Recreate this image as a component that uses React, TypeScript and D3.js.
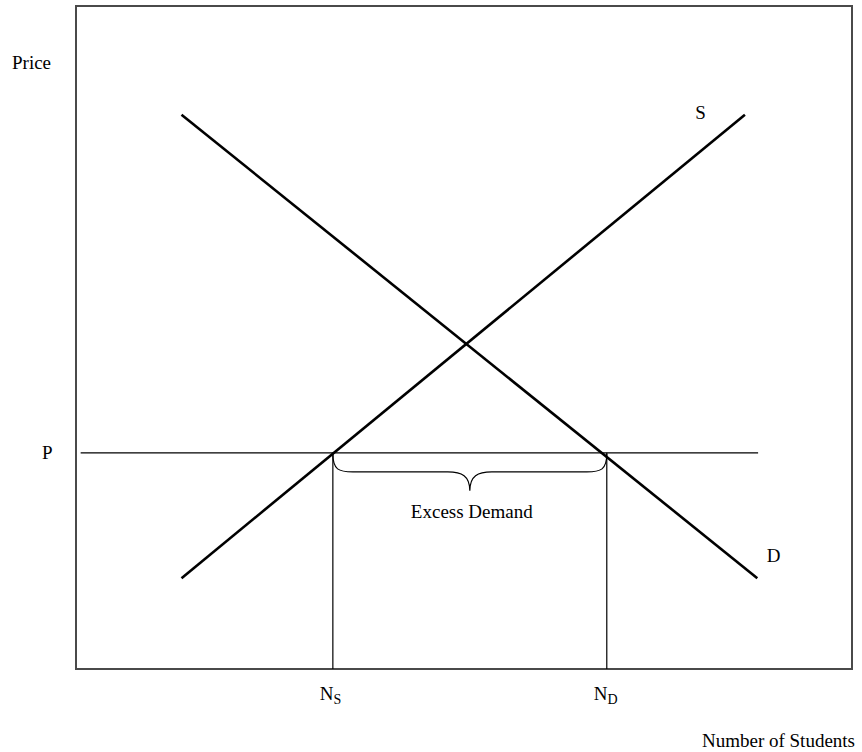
import { useEffect, useRef } from "react";
import * as d3 from "d3";

// quantity / price in chart units (0..10 on both axes)
const supply = [
  { q: 1.36, p: 1.37 },
  { q: 8.62, p: 8.36 },
];
const demand = [
  { q: 1.36, p: 8.36 },
  { q: 8.78, p: 1.37 },
];
const priceLevel = 3.26;
const priceLineRange = [0.06, 8.79];
const quantities = [
  { q: 3.31, sub: "S" },
  { q: 6.84, sub: "D" },
];
const curveLabels = [
  { text: "S", q: 7.98, p: 8.3 },
  { text: "D", q: 8.9, p: 1.62 },
];
const braceLabel = "Excess Demand";
const xLabel = "Number of Students";
const yLabel = "Price";

const W = 862;
const H = 752;
const frame = { left: 76, right: 852, top: 6, bottom: 669 };
const font = "'Liberation Serif', 'Times New Roman', serif";

export default function App() {
  const ref = useRef<SVGSVGElement>(null);

  useEffect(() => {
    document.body.style.margin = "0";
    if (!ref.current) return;
    const svg = d3.select(ref.current);
    svg.selectAll("*").remove();

    const x = d3.scaleLinear().domain([0, 10]).range([frame.left, frame.right]);
    const y = d3.scaleLinear().domain([0, 10]).range([frame.bottom, frame.top]);

    svg
      .append("rect")
      .attr("x", frame.left)
      .attr("y", frame.top)
      .attr("width", frame.right - frame.left)
      .attr("height", frame.bottom - frame.top)
      .attr("fill", "none")
      .attr("stroke", "#4a4a4a")
      .attr("stroke-width", 2);

    const line = d3
      .line<{ q: number; p: number }>()
      .x((d) => x(d.q))
      .y((d) => y(d.p));

    // price line
    svg
      .append("line")
      .attr("x1", x(priceLineRange[0]))
      .attr("x2", x(priceLineRange[1]))
      .attr("y1", y(priceLevel))
      .attr("y2", y(priceLevel))
      .attr("stroke", "#000")
      .attr("stroke-width", 1.2);

    quantities.forEach((t) => {
      svg
        .append("line")
        .attr("x1", x(t.q))
        .attr("x2", x(t.q))
        .attr("y1", y(priceLevel))
        .attr("y2", y(0))
        .attr("stroke", "#000")
        .attr("stroke-width", 1.2);
    });

    [supply, demand].forEach((seg) => {
      svg
        .append("path")
        .attr("d", line(seg))
        .attr("fill", "none")
        .attr("stroke", "#000")
        .attr("stroke-width", 2.6);
    });

    // brace under the price line
    const x1 = x(quantities[0].q);
    const x2 = x(quantities[1].q);
    const mid = (x1 + x2) / 2;
    const y0 = y(priceLevel) + 1;
    const y1 = y0 + 18;
    const tip = y0 + 37;
    const brace = d3.path();
    brace.moveTo(x1, y0);
    brace.bezierCurveTo(x1, y1 - 2, x1 + 6, y1, x1 + 20, y1);
    brace.lineTo(mid - 22, y1);
    brace.bezierCurveTo(mid - 8, y1, mid, y1 + 4, mid, tip);
    brace.bezierCurveTo(mid, y1 + 4, mid + 8, y1, mid + 22, y1);
    brace.lineTo(x2 - 20, y1);
    brace.bezierCurveTo(x2 - 6, y1, x2, y1 - 2, x2, y0);
    svg
      .append("path")
      .attr("d", brace.toString())
      .attr("fill", "none")
      .attr("stroke", "#000")
      .attr("stroke-width", 1.2);

    const txt = svg
      .append("g")
      .attr("font-family", font)
      .attr("font-size", 19)
      .attr("fill", "#000");

    txt
      .append("text")
      .attr("x", mid + 2)
      .attr("y", tip + 27)
      .attr("text-anchor", "middle")
      .text(braceLabel);

    curveLabels.forEach((l) => {
      txt.append("text").attr("x", x(l.q)).attr("y", y(l.p)).text(l.text);
    });

    txt
      .append("text")
      .attr("x", 42)
      .attr("y", y(priceLevel) + 6)
      .text("P");

    quantities.forEach((t) => {
      const el = txt
        .append("text")
        .attr("x", x(t.q) - 13)
        .attr("y", 700);
      el.append("tspan").text("N");
      el.append("tspan").attr("font-size", 14).attr("dy", 4).text(t.sub);
    });

    txt.append("text").attr("x", 12).attr("y", 69).text(yLabel);
    txt
      .append("text")
      .attr("x", 855)
      .attr("y", 747)
      .attr("text-anchor", "end")
      .text(xLabel);
  }, []);

  return (
    <svg
      ref={ref}
      width={W}
      height={H}
      style={{ position: "absolute", left: 0, top: 0, background: "#fff" }}
    />
  );
}
